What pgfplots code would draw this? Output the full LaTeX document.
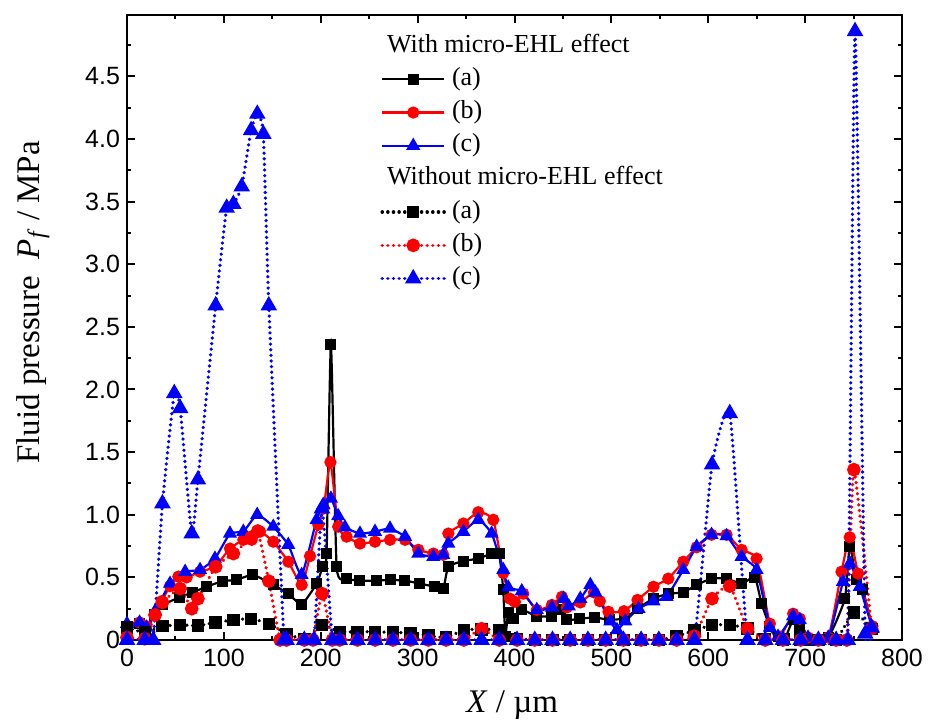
\documentclass[border=0pt]{standalone}
\usepackage{fontspec}
\setmainfont{Liberation Serif}
\newfontfamily\tickfont{Liberation Sans}
\usepackage{pgfplots}
\pgfplotsset{compat=1.18}
\begin{document}
\begin{tikzpicture}
\begin{axis}[
  scale only axis, width=387.5pt, height=312.5pt,
  xmin=0, xmax=800, ymin=0, ymax=4.99,
  xtick={0,100,200,300,400,500,600,700,800},
  xticklabels={0,100,200,300,400,500,600,700,800},
  minor xtick={50,150,250,350,450,550,650,750},
  ytick={0,0.5,1,1.5,2,2.5,3,3.5,4,4.5},
  yticklabels={0,0.5,1.0,1.5,2.0,2.5,3.0,3.5,4.0,4.5},
  minor ytick={0.25,0.75,1.25,1.75,2.25,2.75,3.25,3.75,4.25,4.75},
  tick align=inside, major tick length=4pt, minor tick length=2pt,
  axis line style={line width=1pt},
  every tick/.style={black, line width=1pt},
  tick label style={font=\tickfont\fontsize{12.5}{14}\selectfont},
  xticklabel style={yshift=-1pt},
  xlabel={\textit{X} / µm},
  ylabel={Fluid pressure\ \ \textit{P}\kern0.3pt\raisebox{-0.35ex}{\fontsize{12}{13}\selectfont\textit{f}}\ / MPa},
  xlabel style={font=\fontsize{16.5}{19}\selectfont, at={(axis description cs:0.497,-0.104)}, anchor=center},
  ylabel style={font=\fontsize{16.5}{19}\selectfont, at={(axis description cs:-0.1215,0.54)}, anchor=center},
  legend cell align=left,
  legend style={draw=none, fill=none, inner sep=0pt, at={(axis description cs:0.3265,0.970)}, anchor=north west,
    font=\fontsize{13}{15}\selectfont,
    nodes={inner sep=0pt, text height=9pt, text depth=3pt}, row sep=4.6pt,
    /tikz/every odd column/.append style={column sep=3pt}},
  legend image code/.code={\draw[mark repeat=2,mark phase=2] plot coordinates {(0pt,0pt) (15.5pt,0pt) (31pt,0pt)};},
  sol/.style={line width=1.1pt, smooth, tension=0.3, mark options={solid}},
  dot/.style={line width=1.8pt, line cap=round, dash pattern=on 0.01pt off 2.8pt, smooth, tension=0.3, mark options={solid}},
]
\addlegendimage{empty legend}
\addlegendentry{\hspace*{-32.5pt}With micro-EHL effect}
% (a) with
\addplot[sol, black, mark=square*, mark size=2.2pt] coordinates {
(0,0.10) (13,0.13) (19,0.08) (28.9,0.20) (37.1,0.28) (53.9,0.34) (67.6,0.38) (82.2,0.425)
(98.6,0.47) (113.1,0.48) (130,0.52) (151,0.44) (166.5,0.37) (180.3,0.285) (195.7,0.45)
(202,0.585) (206,0.69) (210.5,2.36) (216.4,0.585) (226.7,0.49) (240.5,0.474) (257.7,0.474)
(271.5,0.48) (286.9,0.474) (302.4,0.45) (317.9,0.425) (326.5,0.41) (331.7,0.585) (347.2,0.63)
(362.6,0.65) (376.4,0.69) (384,0.69) (388.4,0.40) (390.5,0.03) (393.5,0.22) (398.7,0.17)
(407.7,0.24) (423,0.19) (438.5,0.19) (447,0.24) (454,0.16) (467.6,0.17) (483,0.18)
(498.5,0.16) (514,0.175) (527,0.25) (543.2,0.33) (558.7,0.37) (574.2,0.38) (588,0.44)
(603.4,0.49) (618.9,0.49) (634.4,0.45) (648.1,0.50) (655,0.29) (663.6,0.11) (672,0.03)
(679,0.01) (687.6,0.16) (694.5,0.08) (703,0.0) (723.8,0.02) (741,0.33) (746,0.75)
(752.9,0.48) (759.7,0.40) (769.5,0.09)
};
\addlegendentry{(a)}
% (b) with
\addplot[sol, red, mark=*, mark size=2.5pt] coordinates {
(0,0.11) (13,0.14) (20,0.11) (29,0.21) (35.8,0.31) (44.4,0.43) (53,0.506) (61.6,0.50)
(75.4,0.545) (90.8,0.585) (106.3,0.73) (120.1,0.80) (128.7,0.80) (137.3,0.865) (151,0.785)
(166.5,0.625) (180.3,0.44) (188.9,0.67) (197.5,0.92) (203,1.05) (210,1.42) (218,0.905)
(226.7,0.825) (240.5,0.77) (256,0.785) (271.5,0.80) (287,0.80) (300.7,0.72) (316.2,0.69)
(326.5,0.68) (331.7,0.85) (347.2,0.93) (362.6,1.02) (378,0.96) (388.4,0.535) (395.3,0.33)
(400.4,0.305) (409,0.37) (423,0.24) (438.6,0.28) (449,0.345) (454,0.26) (467.9,0.30)
(482,0.38) (488,0.31) (497,0.225) (513,0.23) (527,0.32) (543.4,0.425) (558.7,0.49)
(574.2,0.625) (588,0.74) (603.4,0.84) (618.9,0.84) (634.4,0.72) (649.9,0.65) (663.6,0.13)
(674,0.027) (687.6,0.21) (694.5,0.17) (703,0.02) (723.8,0.02) (737.5,0.545) (746,0.82)
(754.7,0.53) (769.5,0.11)
};
\addlegendentry{(b)}
% (c) with
\addplot[sol, blue, mark=triangle*, mark size=3pt] coordinates {
(0,0.13) (13,0.14) (20,0.10) (29,0.23) (44.4,0.45) (60,0.545) (75.4,0.56) (90.8,0.65)
(106.3,0.85) (120.1,0.865) (134.4,1.0) (151,0.905) (166.5,0.76) (180.3,0.52) (195.7,0.96)
(202.6,1.08) (210.5,1.13) (218,0.99) (225,0.90) (240.5,0.85) (256,0.865) (271.5,0.89)
(287,0.825) (300.7,0.69) (316.2,0.665) (326.5,0.68) (331.7,0.77) (347.2,0.865) (362.6,0.96)
(376.4,0.85) (388.4,0.56) (393.5,0.42) (407.5,0.39) (423,0.24) (438.6,0.26) (450.7,0.33)
(456,0.27) (467.9,0.33) (478.3,0.44) (483.4,0.38) (498.9,0.15) (505.8,0.08) (514.3,0.15)
(528,0.25) (543.4,0.31) (557,0.345) (574.2,0.56) (588,0.745) (603.4,0.84) (618.9,0.83)
(634.4,0.665) (649.9,0.56) (663.6,0.10) (672,0.027) (687.6,0.19) (694.5,0.16) (703,0.02)
(723.8,0.02) (739,0.465) (746,0.61) (756.4,0.425) (769.5,0.09)
};
\addlegendentry{(c)}
\addlegendimage{empty legend}
\addlegendentry{\hspace*{-32.5pt}Without micro-EHL effect}
% (a) without
\addplot[dot, black, mark=square*, mark size=2.2pt] coordinates {
(0,0.10) (18.3,0.06) (36.6,0.11) (54.9,0.12) (73.2,0.115) (91.5,0.14) (109.8,0.16)
(128.1,0.17) (146.4,0.13) (164.7,0.05) (183,0.01) (201.3,0.12) (219.6,0.066) (237.9,0.066)
(256.2,0.066) (274.5,0.06) (292.8,0.056) (311.1,0.035) (329.4,0.02) (347.7,0.08) (366,0.085)
(384.3,0.08) (402.6,0.01) (420.9,0) (439.2,0) (457.5,0) (475.8,0) (494.1,0) (512.4,0)
(530.7,0) (549,0) (567.3,0.03) (585.6,0.075) (603.9,0.12) (622.2,0.12) (640.5,0.093)
(658.8,0.01) (677.1,0) (695.4,0) (713.7,0) (732,0) (750.3,0.22) (768.6,0.09)
};
\addlegendentry{(a)}
% (b) without
\addplot[dot, red, mark=*, mark size=2.5pt] coordinates {
(0,0.02) (18.3,0.01) (29,0.2) (36.6,0.30) (54.9,0.41) (66.8,0.25) (73.2,0.33) (91.5,0.585)
(109.8,0.69) (128.1,0.82) (135,0.87) (146.4,0.47) (158,0) (164.7,0) (183,0) (192,0)
(201.3,0.37) (212,0) (219.6,0) (237.9,0) (256.2,0) (274.5,0) (292.8,0) (311.1,0) (329.4,0)
(347.7,0) (366,0.09) (384.3,0) (402.6,0) (420.9,0) (439.2,0) (457.5,0) (475.8,0) (494.1,0)
(512.4,0) (530.7,0) (549,0) (567.3,0) (585.6,0.03) (603.9,0.33) (622.2,0.43) (640.5,0.09)
(658.8,0) (677.1,0) (695.4,0) (713.7,0) (732,0) (743,0) (750.3,1.36) (768.6,0.09)
};
\addlegendentry{(b)}
% (c) without
\addplot[dot, blue, mark=triangle*, mark size=3pt] coordinates {
(0,0) (18.3,0) (27,0) (36.6,1.09) (48.8,1.97) (54.9,1.85) (66.8,0.85) (73.2,1.28)
(91.5,2.67) (102.9,3.45) (109.8,3.48) (118.4,3.62) (128.1,4.07) (134.5,4.20) (140.7,4.04)
(146.4,2.67) (162,0) (164.7,0) (183,0) (193,0) (201.3,1.05) (212,0) (219.6,0) (237.9,0)
(256.2,0) (274.5,0) (292.8,0) (311.1,0) (329.4,0) (347.7,0) (366,0) (384.3,0) (402.6,0)
(420.9,0) (439.2,0) (457.5,0) (475.8,0) (494.1,0) (512.4,0) (530.7,0) (549,0) (567.3,0)
(585.6,0) (603.9,1.40) (622.2,1.81) (640.5,0) (658.8,0) (677.1,0) (695.4,0) (713.7,0)
(732,0) (744,0) (751.5,4.86) (762,0.05) (768.6,0.10)
};
\addlegendentry{(c)}
\end{axis}
\pgfresetboundingbox
\path[use as bounding box] ([xshift=-63.5pt,yshift=-41pt]current axis.south west) rectangle ([xshift=14pt,yshift=7.5pt]current axis.north east);
\end{tikzpicture}
\end{document}
